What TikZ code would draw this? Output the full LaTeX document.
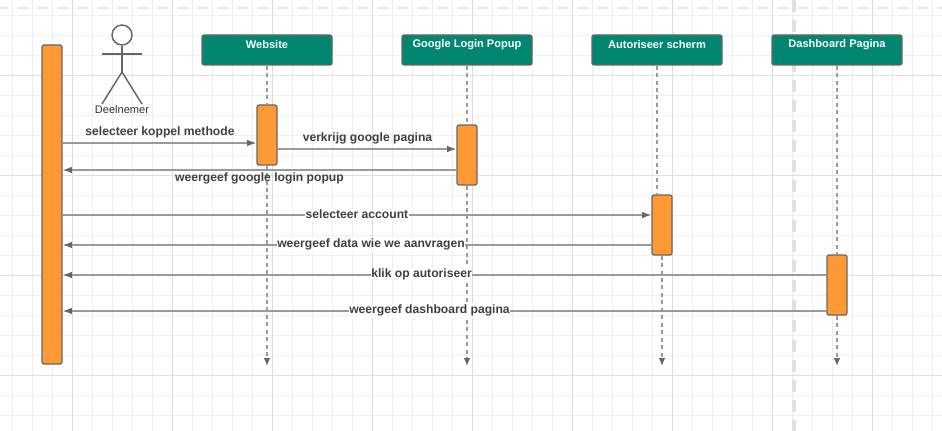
\documentclass[tikz,border=0pt]{standalone}
\usepackage{fontspec}
\setmainfont{Liberation Sans}
\usetikzlibrary{arrows.meta}
\definecolor{boxgreen}{HTML}{008671}
\definecolor{barorange}{HTML}{FF9933}
\definecolor{edgegray}{HTML}{666666}
\definecolor{linegray}{HTML}{9A9A9A}
\tikzset{
  head/.style={draw=edgegray,fill=boxgreen,rounded corners=1.5pt,line width=.9pt,minimum width=97.5pt,minimum height=22.5pt,inner sep=0pt},
  headtext/.style={text=white,font=\bfseries\fontsize{8.3}{10}\selectfont,inner sep=0pt},
  bar/.style={draw=edgegray,fill=barorange,rounded corners=1.5pt,line width=.9pt,minimum width=15pt,inner sep=0pt},
  lifeline/.style={draw=linegray,line width=1.1pt,dash pattern=on 3pt off 2.6pt},
  lifeend/.style={lifeline,-{Latex[length=6pt,width=5pt,color=edgegray]}},
  msg/.style={draw=linegray,line width=1.1pt,-{Latex[length=7pt,width=5pt,color=edgegray]}},
  msgtext/.style={text=black!75,font=\bfseries\fontsize{9.1}{11}\selectfont,inner sep=0pt},
  msgfill/.style={msgtext,fill=white,inner xsep=.5pt,inner ysep=1pt},
  actorline/.style={draw=edgegray,line width=1.1pt}
}
\begin{document}
\begin{tikzpicture}[x=.75pt,y=-.75pt]
  \path[use as bounding box] (0,0) rectangle (942,431);
  % raster
  \foreach \x in {12.5,32.5,...,932.5} {
    \draw[black!7,line width=.6pt] (\x,0) -- (\x,431);
  }
  \foreach \y in {15,35,...,415} {
    \draw[black!6,line width=.6pt] (0,\y) -- (942,\y);
  }
  \foreach \x in {72.5,172.5,...,872.5} {
    \draw[black!14,line width=.6pt] (\x,0) -- (\x,431);
  }
  \foreach \y in {75,175,275,375} {
    \draw[black!12,line width=.6pt] (0,\y) -- (942,\y);
  }
  \draw[black!10,line width=2.2pt,dash pattern=on 7.5pt off 7.5pt] (-2,8) -- (942,8);
  \draw[black!12,line width=3pt,dash pattern=on 9pt off 6pt] (794,0) -- (794,431);

  % schermen
  \node[head] at (267,50) (site) {};
  \node[head] at (467,50) (popup) {};
  \node[head] at (657,50) (auth) {};
  \node[head] at (837,50) (dash) {};
  \node[headtext] at (267,44.5) (sitetext) {Website};
  \node[headtext] at (467,44.5) (popuptext) {Google Login Popup};
  \node[headtext] at (657,44.5) (authtext) {Autoriseer scherm};
  \node[headtext] at (837,44.5) (dashtext) {Dashboard Pagina};

  % balken
  \node[bar,minimum height=239.25pt] at (52,204.5) (deelbar) {};
  \node[bar,minimum height=45pt] at (267,135) (sitebar) {};
  \node[bar,minimum height=45pt] at (467,155) (popupbar) {};
  \node[bar,minimum height=45pt] at (662,225) (authbar) {};
  \node[bar,minimum height=45pt] at (837,285) (dashbar) {};

  % deelnemer
  \node[draw=edgegray,line width=1.1pt,circle,fill=white,minimum size=15pt,inner sep=0pt] at (122,35) (kop) {};
  \coordinate (romp) at (122,72);
  \coordinate (armL) at (102,54);
  \coordinate (armR) at (142,54);
  \coordinate (beenL) at (102,104);
  \coordinate (beenR) at (142,104);
  \draw[actorline] (kop.south) -- (romp);
  \draw[actorline] (armL) -- (armR);
  \draw[actorline] (beenL) -- (romp) -- (beenR);
  \node[text=black!80,font=\fontsize{8.3}{10}\selectfont,inner sep=0pt] at (122,109.5) (deel) {Deelnemer};

  % levenslijnen
  \coordinate (eind) at (0,366);
  \draw[lifeline] (site.south) -- (sitebar.north);
  \draw[lifeend] (sitebar.south) -- (sitebar.south |- eind);
  \draw[lifeline] (popup.south) -- (popupbar.north);
  \draw[lifeend] (popupbar.south) -- (popupbar.south |- eind);
  \draw[lifeline] (auth.south) -- (auth.south |- authbar.north);
  \draw[lifeend] (authbar.south) -- (authbar.south |- eind);
  \draw[lifeline] (dash.south) -- (dashbar.north);
  \draw[lifeend] (dashbar.south) -- (dashbar.south |- eind);

  % berichten
  \coordinate (r1) at (0,143);
  \coordinate (r2) at (0,149);
  \coordinate (r3) at (0,170);
  \coordinate (r4) at (0,215);
  \coordinate (r5) at (0,245);
  \coordinate (r6) at (0,275);
  \coordinate (r7) at (0,311);
  \draw[msg] (deelbar.east |- r1) -- (sitebar.west |- r1);
  \draw[msg] (sitebar.east |- r2) -- (popupbar.west |- r2);
  \draw[msg] (popupbar.west |- r3) -- (deelbar.east |- r3);
  \draw[msg] (deelbar.east |- r4) -- (authbar.west |- r4);
  \draw[msg] (authbar.west |- r5) -- (deelbar.east |- r5);
  \draw[msg] (dashbar.west |- r6) -- (deelbar.east |- r6);
  \draw[msg] (dashbar.west |- r7) -- (deelbar.east |- r7);

  \node[msgtext] at (160,132.5) (koppel) {selecteer koppel methode};
  \node[msgtext] at (367.5,138.5) (verkrijg) {verkrijg google pagina};
  \node[msgtext] at (259.5,178.5) (login) {weergeef google login popup};
  \node[msgfill] at (357,214.5) (account) {selecteer account};
  \node[msgfill] at (371,244.5) (data) {weergeef data wie we aanvragen};
  \node[msgfill] at (421.5,274.5) (klik) {klik op autoriseer};
  \node[msgfill] at (429.5,310.5) (dashtitel) {weergeef dashboard pagina};
\end{tikzpicture}
\end{document}
